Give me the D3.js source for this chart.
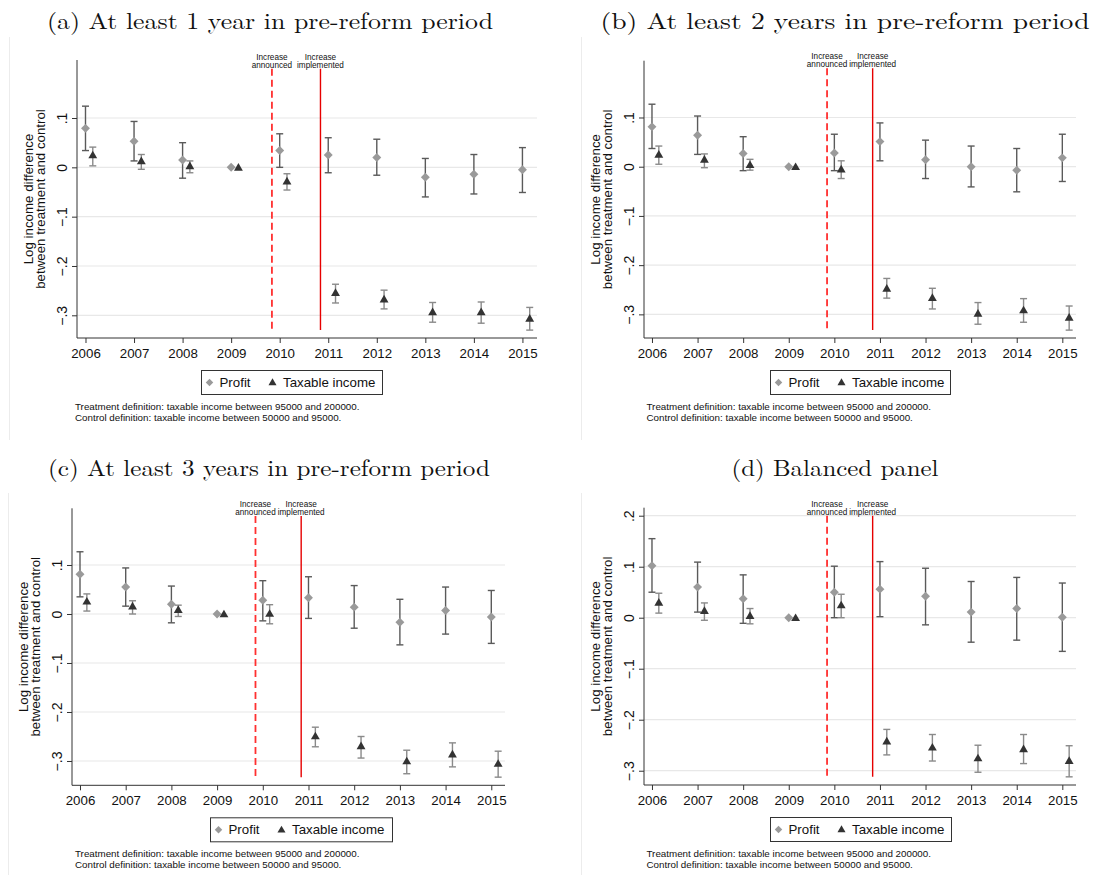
<!DOCTYPE html>
<html>
<head>
<meta charset="utf-8">
<script src="https://cdn.jsdelivr.net/npm/d3@7"></script>
<style>
  body { margin: 0; background: #fff; }
  text { font-family: "Liberation Sans", Arial, sans-serif; fill: #111; }
  .title { font-family: "Latin Modern Roman", "Liberation Serif", "DejaVu Serif", serif; font-size: 23px; }
</style>
</head>
<body>
<script>
var years = [2006, 2007, 2008, 2009, 2010, 2011, 2012, 2013, 2014, 2015];
var TAX_OFFSET = 0.15;

// (a) at least 1 year
var profitA   = [0.079, 0.053, 0.015, 0, 0.034, 0.025, 0.020, -0.020, -0.014, -0.005];
var profitALo = [0.034, 0.013, -0.022, null, 0.000, -0.011, -0.016, -0.060, -0.054, -0.051];
var profitAHi = [0.124, 0.093, 0.050, null, 0.068, 0.060, 0.057, 0.018, 0.026, 0.040];
var taxA      = [0.025, 0.013, 0.003, 0, -0.028, -0.254, -0.267, -0.293, -0.293, -0.306];
var taxALo    = [0.003, -0.004, -0.011, null, -0.046, -0.275, -0.287, -0.314, -0.316, -0.330];
var taxAHi    = [0.041, 0.026, 0.013, null, -0.013, -0.237, -0.249, -0.274, -0.273, -0.284];

// (b) at least 2 years
var profitB   = [0.081, 0.064, 0.027, 0, 0.028, 0.051, 0.014, 0.000, -0.007, 0.018];
var profitBLo = [0.037, 0.025, -0.008, null, -0.008, 0.012, -0.024, -0.041, -0.051, -0.030];
var profitBHi = [0.127, 0.103, 0.061, null, 0.066, 0.089, 0.054, 0.042, 0.037, 0.066];
var taxB      = [0.025, 0.015, 0.004, 0, -0.005, -0.247, -0.266, -0.298, -0.291, -0.306];
var taxBLo    = [0.005, -0.002, -0.007, null, -0.024, -0.267, -0.289, -0.320, -0.316, -0.332];
var taxBHi    = [0.042, 0.026, 0.015, null, 0.012, -0.227, -0.247, -0.276, -0.268, -0.283];

// (c) at least 3 years
var profitC   = [0.081, 0.055, 0.020, 0, 0.028, 0.033, 0.014, -0.017, 0.007, -0.006];
var profitCLo = [0.035, 0.016, -0.018, null, -0.014, -0.009, -0.029, -0.063, -0.041, -0.060];
var profitCHi = [0.127, 0.094, 0.057, null, 0.068, 0.076, 0.058, 0.030, 0.055, 0.048];
var taxC      = [0.026, 0.016, 0.009, 0, 0.001, -0.249, -0.269, -0.300, -0.286, -0.305];
var taxCLo    = [0.006, 0.000, -0.005, null, -0.020, -0.271, -0.294, -0.326, -0.312, -0.333];
var taxCHi    = [0.041, 0.027, 0.018, null, 0.019, -0.231, -0.250, -0.278, -0.263, -0.280];

// (d) balanced panel
var profitD   = [0.102, 0.060, 0.037, 0, 0.050, 0.056, 0.042, 0.011, 0.018, 0.001];
var profitDLo = [0.050, 0.011, -0.011, null, 0.000, 0.002, -0.014, -0.048, -0.044, -0.066];
var profitDHi = [0.155, 0.109, 0.084, null, 0.101, 0.110, 0.097, 0.071, 0.079, 0.068];
var taxD      = [0.030, 0.014, 0.004, 0, 0.025, -0.242, -0.254, -0.275, -0.257, -0.280];
var taxDLo    = [0.009, -0.005, -0.012, null, 0.000, -0.269, -0.281, -0.303, -0.286, -0.312];
var taxDHi    = [0.048, 0.029, 0.018, null, 0.046, -0.219, -0.229, -0.250, -0.229, -0.251];

var yTicksABC = [0.1, 0, -0.1, -0.2, -0.3];
var yTicksD = [0.2, 0.1, 0, -0.1, -0.2, -0.3];
var titles = ["(a) At least 1 year in pre-reform period", "(b) At least 2 years in pre-reform period",
              "(c) At least 3 years in pre-reform period", "(d) Balanced panel"];
var legendLabels = ["Profit", "Taxable income"];
var refLines = [{x: 2009.84, label: ["Increase", "announced"], dash: "7,4"},
                {x: 2010.84, label: ["Increase", "implemented"], dash: null}];
var notes = ["Treatment definition: taxable income between 95000 and 200000.",
             "Control definition: taxable income between 50000 and 95000."];

function series(est, lo, hi) {
    return years.map((y, i) => ({year: y, est: est[i], lo: lo[i], hi: hi[i]}));
}

var panels = [
    {profit: series(profitA, profitALo, profitAHi), tax: series(taxA, taxALo, taxAHi), ticks: yTicksABC, title: titles[0],
     left: 77, right: 537, top: 60, bottom: 338, yDom: [-0.346, 0.2176], legendX: 201, legendW: 181, noteX: 75,
     titleX: 270, titleY: 29, titleW: 446, borderX: 9.5, borderY: [37, 440]},
    {profit: series(profitB, profitBLo, profitBHi), tax: series(taxB, taxBLo, taxBHi), ticks: yTicksABC, title: titles[1],
     left: 644, right: 1076, top: 60.7, bottom: 338, yDom: [-0.348, 0.2154], legendX: 770, legendW: 180, noteX: 646.5,
     titleX: 845, titleY: 29, titleW: 489, borderX: 581.5, borderY: [37, 440]},
    {profit: series(profitC, profitCLo, profitCHi), tax: series(taxC, taxCLo, taxCHi), ticks: yTicksABC, title: titles[2],
     left: 72, right: 505, top: 508.3, bottom: 785.3, yDom: [-0.3496, 0.2157], legendX: 210, legendW: 182, noteX: 75,
     titleX: 269, titleY: 476, titleW: 442, borderX: 8.5, borderY: [493, 875]},
    {profit: series(profitD, profitDLo, profitDHi), tax: series(taxD, taxDLo, taxDHi), ticks: yTicksD, title: titles[3],
     left: 644, right: 1076, top: 507.7, bottom: 785, yDom: [-0.328, 0.2157], legendX: 770, legendW: 181, noteX: 646.5,
     titleX: 835, titleY: 476, titleW: 207, borderX: 581.5, borderY: [493, 875]}
];

var PROFIT_FILL = "#9a9a9a", PROFIT_CI = "#5a5a5a";
var TAX_FILL = "#333333", TAX_CI = "#8a8a8a";

var diamond = d3.symbol().type(d3.symbolSquare).size(40);
var triangle = d3.symbol().type(d3.symbolTriangle).size(34);

function fmtY(d) {
    if (d === 0) return "0";
    return d3.format(".1f")(d).replace("0.", ".");
}

var svg = d3.select("body").append("svg")
    .attr("width", 1117).attr("height", 875);

function drawPanel(p) {
    let g = svg.append("g");

    // faint frame of the original graph image
    g.append("line")
        .attr("x1", p.borderX).attr("x2", p.borderX)
        .attr("y1", p.borderY[0]).attr("y2", p.borderY[1])
        .attr("stroke", "#ececec");

    g.append("text")
        .attr("class", "title")
        .attr("x", p.titleX).attr("y", p.titleY)
        .attr("text-anchor", "middle")
        .attr("textLength", p.titleW)
        .attr("lengthAdjust", "spacingAndGlyphs")
        .text(p.title);

    let x = d3.scaleLinear().domain([2005.825, 2015.3]).range([p.left, p.right]);
    let y = d3.scaleLinear().domain(p.yDom).range([p.bottom, p.top]);

    // gridlines
    g.append("g").selectAll("line")
        .data(p.ticks).enter().append("line")
        .attr("x1", p.left).attr("x2", p.right)
        .attr("y1", d => y(d)).attr("y2", d => y(d))
        .attr("stroke", "#e8e8e8").attr("stroke-width", 1.2);

    // y axis
    let yAxis = g.append("g")
        .attr("transform", "translate(" + p.left + ",0)")
        .call(d3.axisLeft(y).tickValues(p.ticks).tickSize(5).tickFormat(fmtY));
    yAxis.select(".domain").attr("d", "M0," + p.top + "V" + p.bottom).attr("stroke", "#333");
    yAxis.selectAll(".tick line").attr("stroke", "#333");
    yAxis.selectAll(".tick text")
        .attr("transform", "rotate(-90)")
        .attr("x", 0).attr("y", -10).attr("dy", 0)
        .attr("text-anchor", "middle")
        .style("font-size", "14px")
        .style("font-family", "'Liberation Sans', Arial, sans-serif")
        .attr("fill", "#111");

    // x axis
    let xAxis = g.append("g")
        .attr("transform", "translate(0," + p.bottom + ")")
        .call(d3.axisBottom(x).tickValues(years).tickSize(5).tickFormat(d3.format("d")));
    xAxis.select(".domain").attr("d", "M" + p.left + ",0H" + p.right).attr("stroke", "#333");
    xAxis.selectAll(".tick line").attr("stroke", "#333");
    xAxis.selectAll(".tick text")
        .attr("y", 19.5).attr("dy", 0)
        .style("font-size", "13.3px")
        .style("font-family", "'Liberation Sans', Arial, sans-serif")
        .attr("fill", "#111");

    // y axis title
    let midY = (p.top + p.bottom) / 2;
    g.append("text")
        .attr("transform", "translate(" + (p.left - 32) + "," + midY + ") rotate(-90)")
        .attr("text-anchor", "middle")
        .style("font-size", "13.3px")
        .text("between treatment and control");
    g.append("text")
        .attr("transform", "translate(" + (p.left - 44) + "," + midY + ") rotate(-90)")
        .attr("text-anchor", "middle")
        .style("font-size", "13.3px")
        .text("Log income difference");

    // reform lines, from .2 down to the lowest interval end
    let lowest = d3.min(p.profit.concat(p.tax), d => d.lo);
    let ref = g.append("g").selectAll("g")
        .data(refLines).enter().append("g");
    ref.append("line")
        .attr("x1", d => x(d.x)).attr("x2", d => x(d.x))
        .attr("y1", y(0.2)).attr("y2", y(lowest))
        .attr("stroke", d => d.dash ? "#ff3030" : "#e60000")
        .attr("stroke-width", d => d.dash ? 1.8 : 1.4)
        .attr("stroke-dasharray", d => d.dash);
    ref.each(function(d) {
        let sel = d3.select(this);
        d.label.forEach((t, i) => {
            sel.append("text")
                .attr("x", x(d.x)).attr("y", y(0.2) - 9 + i * 8)
                .attr("text-anchor", "middle")
                .style("font-size", "8.2px")
                .attr("fill", "#333")
                .text(t);
        });
    });

    // confidence intervals
    function drawCI(data, offset, color) {
        let ci = g.append("g").selectAll("g")
            .data(data.filter(d => d.lo !== null)).enter().append("g")
            .attr("stroke", color).attr("stroke-width", 1.4);
        ci.append("line")
            .attr("x1", d => x(d.year + offset)).attr("x2", d => x(d.year + offset))
            .attr("y1", d => y(d.lo)).attr("y2", d => y(d.hi));
        ci.append("line")
            .attr("x1", d => x(d.year + offset) - 3.5).attr("x2", d => x(d.year + offset) + 3.5)
            .attr("y1", d => y(d.lo)).attr("y2", d => y(d.lo));
        ci.append("line")
            .attr("x1", d => x(d.year + offset) - 3.5).attr("x2", d => x(d.year + offset) + 3.5)
            .attr("y1", d => y(d.hi)).attr("y2", d => y(d.hi));
    }
    drawCI(p.profit, 0, PROFIT_CI);
    drawCI(p.tax, TAX_OFFSET, TAX_CI);

    g.append("g").selectAll("path")
        .data(p.profit).enter().append("path")
        .attr("d", diamond)
        .attr("transform", d => "translate(" + x(d.year) + "," + y(d.est) + ") rotate(45)")
        .attr("fill", PROFIT_FILL);

    g.append("g").selectAll("path")
        .data(p.tax).enter().append("path")
        .attr("d", triangle)
        .attr("transform", d => "translate(" + x(d.year + TAX_OFFSET) + "," + (y(d.est) + 0.8) + ")")
        .attr("fill", TAX_FILL);

    // legend
    let lg = g.append("g").attr("transform", "translate(" + p.legendX + "," + (p.bottom + 32) + ")");
    lg.append("rect")
        .attr("x", 0.5).attr("y", 0.5)
        .attr("width", p.legendW).attr("height", 24)
        .attr("fill", "#fff").attr("stroke", "#333").attr("stroke-width", 1);
    lg.append("path").attr("d", d3.symbol().type(d3.symbolSquare).size(28))
        .attr("transform", "translate(8.5,12.5) rotate(45)")
        .attr("fill", PROFIT_FILL);
    lg.append("text").attr("x", 18.5).attr("y", 17.2).style("font-size", "13.3px").text(legendLabels[0]);
    lg.append("path").attr("d", d3.symbol().type(d3.symbolTriangle).size(28))
        .attr("transform", "translate(71.5,13)")
        .attr("fill", TAX_FILL);
    lg.append("text").attr("x", 82).attr("y", 17.2).style("font-size", "13.3px").text(legendLabels[1]);

    // notes
    g.append("g").selectAll("text")
        .data(notes).enter().append("text")
        .attr("x", p.noteX)
        .attr("y", (d, i) => p.bottom + 72 + i * 11)
        .style("font-size", "9.8px")
        .text(d => d);
}

panels.forEach(drawPanel);
</script>
</body>
</html>
